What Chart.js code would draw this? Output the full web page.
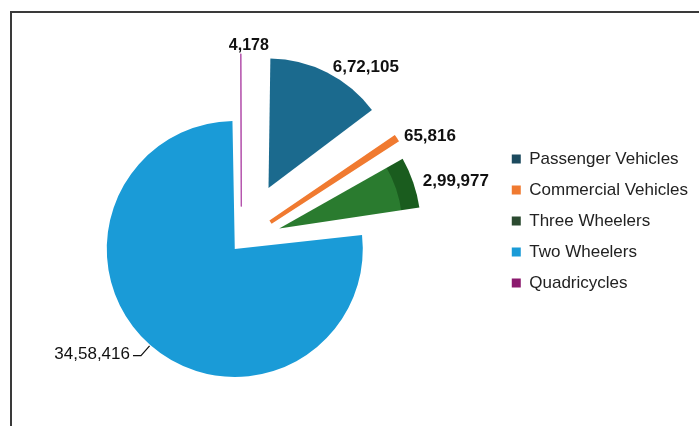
<!DOCTYPE html>
<html>
<head>
<meta charset="utf-8">
<script src="https://cdn.jsdelivr.net/npm/chart.js@4.4.1/dist/chart.umd.min.js"></script>
<style>
  html, body { margin: 0; padding: 0; background: #fff; overflow: hidden; }
  #frame { position: absolute; left: 10px; top: 11px; width: 720px; height: 440px;
           border-left: 2px solid #3a3a3a; border-top: 2px solid #3a3a3a; }
  #wrap { position: absolute; left: -15px; top: 1px; width: 716px; height: 426px; }
</style>
</head>
<body>
<div id="frame"></div>
<div id="wrap"><canvas id="myChart"></canvas></div>
<script>
const categories = ['Passenger Vehicles', 'Commercial Vehicles', 'Three Wheelers', 'Two Wheelers', 'Quadricycles'];
const sales = [672105, 65816, 299977, 3458416, 4178];

const sliceColors = ['#1b6a8e', '#f07a30', '#2a7b2f', '#1a9bd7', '#b04aa8'];
const legendColors = ['#1c4a5e', '#f07a30', '#2b4a30', '#1a9bd7', '#8b1a6e'];

// indian digit grouping: 3458416 -> 34,58,416
function formatIndian(n) {
    let s = String(n);
    if (s.length <= 3) return s;
    let last = s.slice(-3);
    let rest = s.slice(0, -3);
    rest = rest.replace(/\B(?=(\d{2})+(?!\d))/g, ',');
    return rest + ',' + last;
}

const labelFonts = [
    'bold 17px "Liberation Sans", Arial, sans-serif',
    'bold 17px "Liberation Sans", Arial, sans-serif',
    'bold 17px "Liberation Sans", Arial, sans-serif',
    '17px "Liberation Sans", Arial, sans-serif',
    'bold 16px "Liberation Sans Narrow", "Liberation Sans", Arial, sans-serif'
];

// where the exploded arc really sits (same maths as ArcElement.draw)
function arcGeometry(arc) {
    const p = arc.getProps(['x', 'y', 'startAngle', 'endAngle', 'outerRadius', 'circumference'], true);
    const off = (arc.options.offset || 0) / 4;
    const fix = 1 - Math.sin(Math.min(Math.PI, p.circumference));
    const mid = (p.startAngle + p.endAngle) / 2;
    return {
        cx: p.x + Math.cos(mid) * off,
        cy: p.y + Math.sin(mid) * off,
        r: p.outerRadius + off * fix,
        edge: off + p.outerRadius + off * fix,
        mid: mid,
        start: p.startAngle,
        end: p.endAngle,
        x: p.x,
        y: p.y
    };
}

// darker rim on the three wheelers slice, like the 3d side in the original
const sliceDepth = {
    id: 'sliceDepth',
    afterDatasetsDraw(chart) {
        const ctx = chart.ctx;
        const g = arcGeometry(chart.getDatasetMeta(0).data[2]);
        ctx.save();
        ctx.globalCompositeOperation = 'source-atop';
        ctx.fillStyle = '#1a5c1e';
        ctx.beginPath();
        ctx.arc(g.cx, g.cy, g.r + 2, g.start + 0.01, g.end);
        ctx.arc(g.cx, g.cy, g.r * 0.87, g.end, g.start + 0.01, true);
        ctx.closePath();
        ctx.fill();
        ctx.restore();
    }
};

const valueLabels = {
    id: 'valueLabels',
    afterDatasetsDraw(chart) {
        const ctx = chart.ctx;
        const meta = chart.getDatasetMeta(0);
        ctx.save();
        ctx.fillStyle = '#111';
        ctx.strokeStyle = '#111';
        ctx.lineWidth = 1.2;
        meta.data.forEach((arc, i) => {
            const g = arcGeometry(arc);
            const cos = Math.cos(g.mid), sin = Math.sin(g.mid);
            const text = formatIndian(sales[i]);
            ctx.font = labelFonts[i];
            ctx.textBaseline = 'middle';
            if (cos < -0.3) {
                // left side label with a small leader line
                const x0 = g.x + cos * (g.edge + 1), y0 = g.y + sin * (g.edge + 1);
                const x1 = g.x + cos * (g.edge + 14), y1 = g.y + sin * (g.edge + 14);
                ctx.beginPath();
                ctx.moveTo(x0, y0);
                ctx.lineTo(x1, y1);
                ctx.lineTo(x1 - 8, y1);
                ctx.stroke();
                ctx.textAlign = 'right';
                ctx.fillText(text, x1 - 11, y1 - 1);
            } else if (Math.abs(cos) < 0.1) {
                ctx.textAlign = 'center';
                ctx.fillText(text, g.x + cos * (g.edge + 8) + 8, g.y + sin * (g.edge + 8));
            } else {
                ctx.textAlign = 'left';
                ctx.fillText(text, g.x + cos * (g.edge + 8) + 2, g.y + sin * (g.edge + 8) + 2);
            }
        });
        ctx.restore();
    }
};

const chartContext = document.getElementById('myChart').getContext('2d');
const myChart = new Chart(chartContext, {
    type: 'pie',
    data: {
        labels: categories,
        datasets: [{
            data: sales,
            backgroundColor: sliceColors,
            borderColor: ['#fff', '#f07a30', '#fff', '#fff', '#b04aa8'],
            borderWidth: [0, 4, 0, 0, 1],
            borderJoinStyle: 'miter',
            offset: [240, 140, 160, 40, 140],
            cutout: '0%',
            radius: 118,
            clip: false
        }]
    },
    plugins: [sliceDepth, valueLabels],
    options: {
        responsive: true,
        maintainAspectRatio: false,
        animation: false,
        layout: {
            padding: { top: 135.5, bottom: 80.5, left: 0, right: 3 }
        },
        plugins: {
            legend: {
                position: 'right',
                align: 'start',
                labels: {
                    boxWidth: 9,
                    boxHeight: 9,
                    padding: 14,
                    color: '#222',
                    font: { size: 17, family: '"Liberation Sans", Arial, sans-serif' },
                    generateLabels(chart) {
                        return categories.map((name, i) => ({
                            text: name,
                            fillStyle: legendColors[i],
                            strokeStyle: legendColors[i],
                            lineWidth: 0,
                            fontColor: '#222',
                            index: i,
                            hidden: false
                        }));
                    }
                }
            },
            tooltip: { enabled: false }
        }
    }
});
</script>
</body>
</html>
